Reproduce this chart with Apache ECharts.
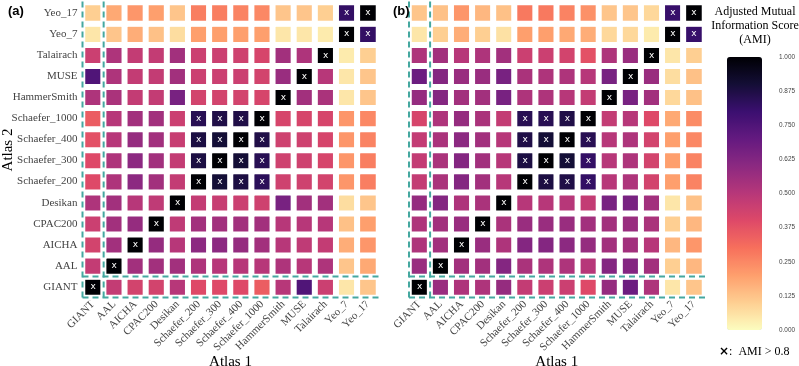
<!DOCTYPE html>
<html>
<head>
<meta charset="utf-8">
<script src="https://cdn.jsdelivr.net/npm/echarts@6/dist/echarts.min.js"></script>
<style>
  html, body { margin: 0; padding: 0; background: #fff; }
  #chart { width: 799px; height: 366px; }
</style>
</head>
<body>
<div id="chart"></div>
<script>
// atlas names, bottom to top on y, left to right on x
var atlases = ['GIANT', 'AAL', 'AICHA', 'CPAC200', 'Desikan', 'Schaefer_200', 'Schaefer_300',
  'Schaefer_400', 'Schaefer_1000', 'HammerSmith', 'MUSE', 'Talairach', 'Yeo_7', 'Yeo_17'];

// panel (a): one row per atlas 2, columns follow atlas 1
var amiA = [
  [1, .47, .43, .43, .50, .40, .40, .40, .35, .50, .75, .45, .05, .12],
  [.47, 1, .55, .55, .55, .52, .50, .50, .50, .52, .50, .52, .12, .18],
  [.43, .55, 1, .58, .50, .60, .60, .58, .55, .50, .48, .47, .17, .22],
  [.45, .55, .58, 1, .48, .55, .55, .55, .55, .50, .50, .50, .13, .20],
  [.52, .55, .50, .48, 1, .47, .46, .45, .44, .65, .55, .55, .07, .12],
  [.40, .52, .60, .55, .47, 1, .90, .88, .84, .44, .44, .43, .22, .27],
  [.40, .52, .60, .55, .47, .88, 1, .90, .85, .44, .44, .42, .22, .27],
  [.38, .50, .58, .55, .46, .88, .90, 1, .87, .44, .44, .42, .22, .26],
  [.35, .50, .55, .55, .45, .85, .87, .87, 1, .42, .42, .42, .22, .25],
  [.52, .53, .47, .47, .65, .43, .43, .43, .42, 1, .55, .53, .05, .12],
  [.75, .52, .47, .47, .55, .45, .45, .45, .43, .57, 1, .50, .05, .12],
  [.45, .52, .47, .47, .55, .45, .45, .44, .42, .55, .52, 1, .04, .10],
  [.05, .12, .17, .13, .07, .20, .20, .20, .20, .05, .05, .04, 1, .82],
  [.10, .18, .22, .20, .12, .27, .27, .26, .25, .12, .12, .10, .82, 1]
];

// panel (b)
var amiB = [
  [1, .57, .52, .52, .58, .47, .45, .45, .40, .58, .68, .52, .05, .12],
  [.57, 1, .55, .55, .62, .53, .52, .52, .50, .62, .62, .55, .10, .15],
  [.52, .55, 1, .57, .52, .62, .62, .60, .58, .55, .55, .50, .15, .22],
  [.52, .55, .57, 1, .53, .57, .57, .57, .55, .55, .57, .53, .10, .15],
  [.58, .62, .52, .53, 1, .50, .50, .50, .47, .65, .65, .55, .05, .13],
  [.47, .53, .62, .55, .50, 1, .88, .87, .82, .50, .52, .43, .20, .26],
  [.47, .53, .62, .55, .50, .88, 1, .90, .82, .50, .52, .43, .20, .26],
  [.47, .53, .60, .55, .50, .87, .90, 1, .85, .50, .52, .43, .20, .25],
  [.42, .52, .58, .53, .47, .85, .85, .87, 1, .47, .50, .40, .18, .24],
  [.58, .62, .55, .55, .65, .52, .52, .50, .47, 1, .65, .55, .08, .13],
  [.68, .62, .57, .57, .65, .53, .52, .52, .50, .65, 1, .57, .07, .13],
  [.52, .55, .50, .52, .55, .45, .45, .43, .38, .52, .57, 1, .05, .10],
  [.05, .10, .17, .10, .06, .20, .20, .18, .17, .08, .08, .04, 1, .81],
  [.12, .13, .22, .15, .13, .28, .28, .26, .23, .12, .12, .08, .81, 1]
];

var colorTicks = [0, 0.125, 0.25, 0.375, 0.5, 0.625, 0.75, 0.875, 1];
var threshold = 0.8;

// magma, reversed (0 = pale yellow, 1 = black)
var magmaR = ['#fcfdbf', '#fecf92', '#fe9f6d', '#f7705c', '#de4968', '#b73779',
  '#8c2981', '#641a80', '#3b0f70', '#140e36', '#000004'];

var serif = 'Liberation Serif';
var teal = '#45a8a0';

function toCells(m) {
  var out = [];
  for (var r = 0; r < m.length; r++) {
    for (var c = 0; c < m[r].length; c++) {
      out.push([c, r, m[r][c]]);
    }
  }
  return out;
}

// dashed guide lines around the GIANT row / column (in cell units)
var n = atlases.length;
var guides = [
  [[-0.5, -0.5], [-0.5, n - 0.38]],
  [[0.5, -0.5], [0.5, n - 0.38]],
  [[-0.5, -0.5], [n - 0.33, -0.5]],
  [[-0.5, 0.5], [n - 0.33, 0.5]]
];

var myChart = echarts.init(document.getElementById('chart'));

var xAxes = [], yAxes = [], series = [];
var grids = [
  { left: 82.5, top: 2.5, width: 296, height: 295, outerBoundsMode: 'none' },
  { left: 409, top: 2.5, width: 295.5, height: 295, outerBoundsMode: 'none' },
  { left: 727, top: 57, width: 35, height: 273, outerBoundsMode: 'none' }
];

[0, 1].forEach(function (g) {
  xAxes.push({
    type: 'category', gridIndex: g, data: atlases,
    name: 'Atlas 1', nameLocation: 'middle', nameGap: 57, nameMoveOverlap: false,
    nameTextStyle: { fontFamily: serif, fontSize: 15, color: '#000' },
    axisLine: { show: false },
    axisTick: { show: true, length: 3, alignWithLabel: true, lineStyle: { color: '#555' } },
    axisLabel: { rotate: 45, interval: 0, margin: 5, fontFamily: serif, fontSize: 11, color: '#444' },
    splitLine: { show: false }
  });
  yAxes.push({
    type: 'category', gridIndex: g, data: atlases,
    name: g === 0 ? 'Atlas 2' : '', nameLocation: 'middle', nameGap: 67, nameMoveOverlap: false,
    nameTextStyle: { fontFamily: serif, fontSize: 15, color: '#000' },
    axisLine: { show: false },
    axisTick: { show: g === 0, length: 3, alignWithLabel: true, lineStyle: { color: '#555' } },
    axisLabel: { show: g === 0, interval: 0, margin: 5, fontFamily: serif, fontSize: 11, color: '#444' },
    splitLine: { show: false }
  });
});

// hidden value axes used to place the dashed guides
[0, 1].forEach(function (g) {
  xAxes.push({ type: 'value', gridIndex: g, min: -0.5, max: n - 0.5, show: false });
  yAxes.push({ type: 'value', gridIndex: g, min: -0.5, max: n - 0.5, show: false });
});

// colour bar tick axis
xAxes.push({ type: 'value', gridIndex: 2, show: false, min: 0, max: 1 });
yAxes.push({
  type: 'value', gridIndex: 2, position: 'right', min: 0, max: 1, interval: 0.125,
  axisLine: { show: false }, axisTick: { show: false }, splitLine: { show: false },
  axisLabel: {
    margin: 17, fontSize: 6.4, color: '#444', fontFamily: 'Liberation Sans',
    formatter: function (v) { return v.toFixed(3); }
  }
});

[amiA, amiB].forEach(function (m, g) {
  series.push({
    type: 'heatmap',
    xAxisIndex: g, yAxisIndex: g,
    data: toCells(m),
    itemStyle: { borderColor: '#fff', borderWidth: 6 },
    label: {
      show: true, color: '#fff', fontSize: 9, fontFamily: 'DejaVu Sans',
      formatter: function (p) { return p.value[2] > threshold ? 'x' : ''; }
    },
    emphasis: { disabled: true }
  });
  guides.forEach(function (seg) {
    series.push({
      type: 'line', xAxisIndex: 2 + g, yAxisIndex: 2 + g,
      data: seg, symbol: 'none', clip: false, silent: true,
      lineStyle: { color: teal, width: 2, type: [6, 4] }
    });
  });
});

var option = {
  animation: false,
  backgroundColor: '#fff',
  grid: grids,
  xAxis: xAxes,
  yAxis: yAxes,
  visualMap: {
    type: 'continuous', min: 0, max: 1, seriesIndex: [0, 5],
    calculable: false, realtime: false, hoverLink: false,
    left: 727, top: 57, itemWidth: 35, itemHeight: 273, padding: 0,
    text: ['', ''], showLabel: false,
    inRange: { color: magmaR }
  },
  title: [
    { text: '(a)', left: 3, top: 0, textStyle: { fontFamily: 'Liberation Sans', fontSize: 13, fontWeight: 'bold', color: '#000' } },
    { text: '(b)', left: 388, top: 0, textStyle: { fontFamily: 'Liberation Sans', fontSize: 13, fontWeight: 'bold', color: '#000' } },
    {
      text: 'Adjusted Mutual\nInformation Score\n(AMI)', left: 750, top: 0, textAlign: 'center',
      textStyle: { fontFamily: serif, fontSize: 12, fontWeight: 'normal', color: '#000', lineHeight: 14 }
    },
    {
      text: '{b|×}{s|:  AMI > 0.8}', left: 714, top: 341,
      textStyle: {
        fontWeight: 'normal',
        rich: {
          b: { fontFamily: 'DejaVu Sans', fontSize: 12, fontWeight: 'bold', color: '#000' },
          s: { fontFamily: serif, fontSize: 12, fontWeight: 'normal', color: '#000' }
        }
      }
    }
  ],
  series: series
};

myChart.setOption(option, true);
window.addEventListener('resize', function () { myChart.resize(); });
</script>
</body>
</html>
